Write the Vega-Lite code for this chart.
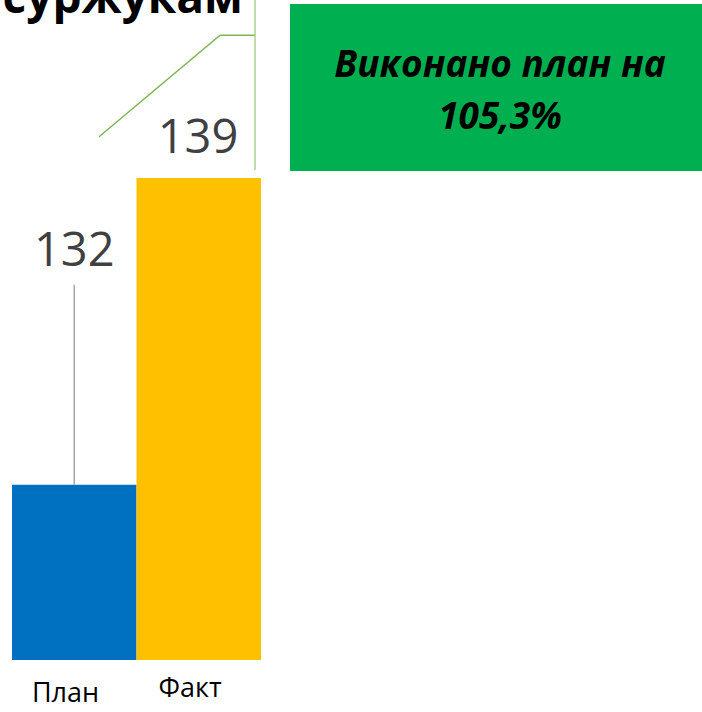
{
  "$schema": "https://vega.github.io/schema/vega-lite/v6.json",
  "width": 702,
  "height": 712,
  "padding": 0,
  "autosize": {"type": "none"},
  "background": "white",
  "config": {"view": {"stroke": null}, "font": "Open Sans"},
  "datasets": {
    "bars": [
      {"cat": "План", "x0": 0, "x1": 1, "value": 132, "base": 128},
      {"cat": "Факт", "x0": 1, "x1": 2, "value": 139, "base": 128}
    ],
    "box": [{"x0": 2.233, "x1": 5.6, "y0": 139.16, "y1": 142.97}],
    "lines": [
      {"seg": "plan", "o": 1, "lx": 0.5, "ly": 136.56},
      {"seg": "plan", "o": 2, "lx": 0.5, "ly": 132},
      {"seg": "fact", "o": 1, "lx": 0.699, "ly": 139.94},
      {"seg": "fact", "o": 2, "lx": 1.671, "ly": 142.26},
      {"seg": "fact", "o": 3, "lx": 1.952, "ly": 142.26},
      {"seg": "tick", "o": 1, "lx": 1.952, "ly": 143.06},
      {"seg": "tick", "o": 2, "lx": 1.952, "ly": 139.18}
    ],
    "labels": [
      {"txt": "132", "lx": 0.5, "ly": 137.31},
      {"txt": "139", "lx": 1.494, "ly": 139.89}
    ],
    "boxtext": [
      {"txt": "Виконано план на", "lx": 3.92, "ly": 141.55},
      {"txt": "105,3%", "lx": 3.92, "ly": 140.38}
    ],
    "cats": [
      {"txt": "План", "lx": 0.43, "ly": 127.22},
      {"txt": "Факт", "lx": 1.43, "ly": 127.33}
    ],
    "title": [{"txt": "суржукам", "lx": 1.855, "ly": 142.765}]
  },
  "layer": [
    {
      "data": {"name": "bars"},
      "mark": {"type": "rect"},
      "encoding": {
        "x": {"field": "x0", "type": "quantitative", "scale": {"domain": [-0.0964, 5.542], "nice": false, "zero": false}, "axis": null},
        "x2": {"field": "x1"},
        "y": {"field": "value", "type": "quantitative", "scale": {"domain": [126.813, 143.062], "nice": false, "zero": false}, "axis": null},
        "y2": {"field": "base"},
        "color": {"field": "cat", "type": "nominal", "scale": {"domain": ["План", "Факт"], "range": ["#0070C0", "#FFC000"]}, "legend": null}
      }
    },
    {
      "data": {"name": "box"},
      "mark": {"type": "rect", "color": "#00B050"},
      "encoding": {
        "x": {"field": "x0", "type": "quantitative"},
        "x2": {"field": "x1"},
        "y": {"field": "y0", "type": "quantitative"},
        "y2": {"field": "y1"}
      }
    },
    {
      "data": {"name": "lines"},
      "mark": {"type": "line", "strokeWidth": 1.5},
      "encoding": {
        "x": {"field": "lx", "type": "quantitative"},
        "y": {"field": "ly", "type": "quantitative"},
        "order": {"field": "o"},
        "detail": {"field": "seg"},
        "stroke": {"field": "seg", "type": "nominal", "scale": {"domain": ["plan", "fact", "tick"], "range": ["#A6A6A6", "#7DB652", "#A9D18E"]}, "legend": null}
      }
    },
    {
      "data": {"name": "labels"},
      "mark": {"type": "text", "fontSize": 47, "color": "#404040", "baseline": "middle", "align": "center"},
      "encoding": {
        "x": {"field": "lx", "type": "quantitative"},
        "y": {"field": "ly", "type": "quantitative"},
        "text": {"field": "txt"}
      }
    },
    {
      "data": {"name": "boxtext"},
      "mark": {"type": "text", "fontSize": 37, "fontWeight": "bold", "fontStyle": "italic", "color": "#000000", "baseline": "middle", "align": "center"},
      "encoding": {
        "x": {"field": "lx", "type": "quantitative"},
        "y": {"field": "ly", "type": "quantitative"},
        "text": {"field": "txt"}
      }
    },
    {
      "data": {"name": "cats"},
      "mark": {"type": "text", "fontSize": 27, "color": "#000000", "baseline": "middle", "align": "center"},
      "encoding": {
        "x": {"field": "lx", "type": "quantitative"},
        "y": {"field": "ly", "type": "quantitative"},
        "text": {"field": "txt"}
      }
    },
    {
      "data": {"name": "title"},
      "mark": {"type": "text", "fontSize": 46, "fontWeight": "bold", "color": "#000000", "baseline": "alphabetic", "align": "right"},
      "encoding": {
        "x": {"field": "lx", "type": "quantitative"},
        "y": {"field": "ly", "type": "quantitative"},
        "text": {"field": "txt"}
      }
    }
  ]
}
